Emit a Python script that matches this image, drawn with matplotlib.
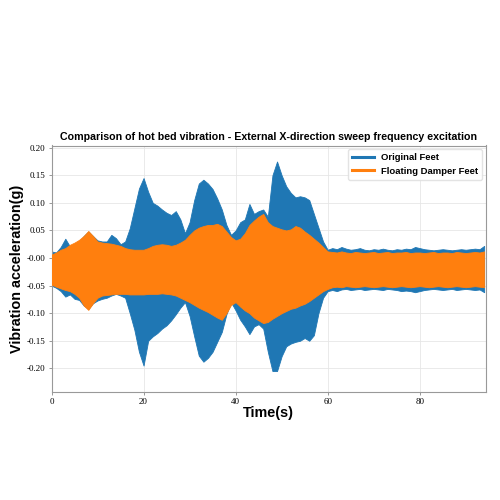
import numpy as np
import matplotlib
matplotlib.use("Agg")
import matplotlib.pyplot as plt
from matplotlib.ticker import FormatStrFormatter

plt.rcParams['axes.unicode_minus'] = False

# ── Envelope data (one value per second, 0..94 s) ─────────────────────────────
time_s = np.arange(0, 95)

orig_hi = [0.012, 0.010, 0.020, 0.035, 0.021, 0.022, 0.030, 0.040, 0.048, 0.040,
           0.032, 0.030, 0.030, 0.042, 0.036, 0.025, 0.030, 0.054, 0.090, 0.126,
           0.145, 0.120, 0.100, 0.095, 0.088, 0.082, 0.078, 0.085, 0.070, 0.045,
           0.065, 0.105, 0.135, 0.142, 0.135, 0.125, 0.108, 0.088, 0.060, 0.042,
           0.050, 0.065, 0.070, 0.098, 0.080, 0.085, 0.088, 0.075, 0.150, 0.175,
           0.150, 0.130, 0.118, 0.110, 0.112, 0.110, 0.105, 0.080, 0.055, 0.030,
           0.015, 0.018, 0.016, 0.020, 0.017, 0.015, 0.016, 0.018, 0.015, 0.014,
           0.016, 0.015, 0.017, 0.015, 0.014, 0.016, 0.015, 0.017, 0.016, 0.020,
           0.018, 0.016, 0.015, 0.014, 0.015, 0.016, 0.015, 0.014, 0.015, 0.016,
           0.015, 0.016, 0.017, 0.016, 0.022]

orig_lo = [-0.050, -0.054, -0.060, -0.070, -0.066, -0.074, -0.076, -0.086, -0.092, -0.082,
           -0.077, -0.074, -0.072, -0.068, -0.065, -0.068, -0.072, -0.100, -0.130, -0.170,
           -0.195, -0.150, -0.142, -0.136, -0.128, -0.122, -0.113, -0.102, -0.090, -0.080,
           -0.105, -0.142, -0.177, -0.188, -0.181, -0.170, -0.152, -0.134, -0.102, -0.080,
           -0.095, -0.112, -0.124, -0.138, -0.124, -0.120, -0.128, -0.170, -0.205, -0.205,
           -0.178, -0.160, -0.155, -0.152, -0.150, -0.145, -0.150, -0.140, -0.100, -0.072,
           -0.060, -0.058, -0.060, -0.057, -0.056, -0.058, -0.057, -0.056, -0.058, -0.057,
           -0.056, -0.057, -0.058, -0.056, -0.057, -0.058, -0.060, -0.059, -0.060, -0.062,
           -0.060, -0.058, -0.057, -0.056, -0.057, -0.058, -0.057, -0.056, -0.058, -0.057,
           -0.056, -0.057, -0.058, -0.057, -0.062]

damp_hi = [0.006, 0.010, 0.015, 0.018, 0.024, 0.028, 0.033, 0.040, 0.049, 0.040,
           0.030, 0.028, 0.027, 0.026, 0.024, 0.022, 0.018, 0.016, 0.015, 0.015,
           0.015, 0.018, 0.022, 0.024, 0.025, 0.024, 0.022, 0.024, 0.028, 0.033,
           0.042, 0.050, 0.055, 0.058, 0.060, 0.060, 0.062, 0.058, 0.048, 0.038,
           0.032, 0.035, 0.045, 0.060, 0.068, 0.075, 0.080, 0.065, 0.058, 0.055,
           0.052, 0.050, 0.052, 0.058, 0.055, 0.048, 0.042, 0.035, 0.028, 0.020,
           0.012, 0.011, 0.010, 0.012, 0.010, 0.009, 0.011, 0.010, 0.009, 0.010,
           0.011, 0.009, 0.010, 0.011, 0.009, 0.010, 0.010, 0.011, 0.009, 0.010,
           0.010, 0.009, 0.010, 0.011, 0.009, 0.010, 0.010, 0.009, 0.011, 0.010,
           0.009, 0.010, 0.011, 0.010, 0.012]

damp_lo = [-0.048, -0.052, -0.055, -0.058, -0.060, -0.065, -0.072, -0.086, -0.094, -0.082,
           -0.072, -0.068, -0.067, -0.066, -0.065, -0.065, -0.065, -0.066, -0.066, -0.066,
           -0.066, -0.065, -0.065, -0.065, -0.064, -0.065, -0.066, -0.068, -0.072, -0.076,
           -0.080, -0.085, -0.090, -0.094, -0.098, -0.103, -0.108, -0.112, -0.100, -0.085,
           -0.080, -0.088, -0.095, -0.100, -0.108, -0.113, -0.118, -0.116, -0.110, -0.105,
           -0.100, -0.096, -0.092, -0.090, -0.086, -0.083, -0.078, -0.072, -0.066, -0.060,
           -0.056, -0.053, -0.052, -0.053, -0.051, -0.052, -0.053, -0.052, -0.051, -0.052,
           -0.053, -0.052, -0.051, -0.052, -0.053, -0.052, -0.051, -0.052, -0.053, -0.052,
           -0.051, -0.052, -0.053, -0.052, -0.051, -0.052, -0.053, -0.052, -0.051, -0.052,
           -0.053, -0.052, -0.051, -0.052, -0.053]

series_labels = ["Original Feet", "Floating Damper Feet"]
BLUE = "#1f77b4"
ORANGE = "#ff7f0e"
SANS = "Liberation Sans"

# ── Figure ─────────────────────────────────────────────────────────────────────
fig = plt.figure(figsize=(5, 5), dpi=100)
ax = fig.add_axes([0.103, 0.217, 0.869, 0.492])

ax.fill_between(time_s, orig_lo, orig_hi, color=BLUE, lw=0.6, zorder=2)
ax.fill_between(time_s, damp_lo, damp_hi, color=ORANGE, lw=0.6, zorder=3)
ax.plot([], [], color=BLUE, lw=2.2, label=series_labels[0])
ax.plot([], [], color=ORANGE, lw=2.2, label=series_labels[1])

ax.set_xlim(0, 94.4)
ax.set_ylim(-0.242, 0.204)
ax.set_xticks([0, 20, 40, 60, 80])
ax.set_yticks(np.arange(-0.20, 0.201, 0.05))
ax.yaxis.set_major_formatter(FormatStrFormatter('%.2f'))

for lab in ax.get_xticklabels() + ax.get_yticklabels():
    lab.set_family('Liberation Serif')
    lab.set_fontsize(6.5)
ax.tick_params(length=2.5, width=0.6, color='#888888', pad=2)

ax.grid(True, color='#e6e6e6', lw=0.6, zorder=0)
ax.set_axisbelow(True)
for sp in ax.spines.values():
    sp.set_color('#999999')
    sp.set_linewidth(0.8)

ax.set_title("Comparison of hot bed vibration - External X-direction sweep frequency excitation",
             fontsize=7.7, fontweight='bold', family=SANS, pad=4)
ax.set_xlabel("Time(s)", fontsize=10.4, fontweight='bold', family=SANS, labelpad=0.5)
ax.set_ylabel("Vibration acceleration(g)", fontsize=10.4, fontweight='bold', family=SANS)
ax.yaxis.set_label_coords(-0.064, 0.5)

ax.legend(loc='upper right', prop={'weight': 'bold', 'size': 6.8, 'family': SANS},
          handlelength=2.3, borderaxespad=0.4, framealpha=0.9, edgecolor='#e0e0e0')

fig.savefig("out.png", dpi=100)
